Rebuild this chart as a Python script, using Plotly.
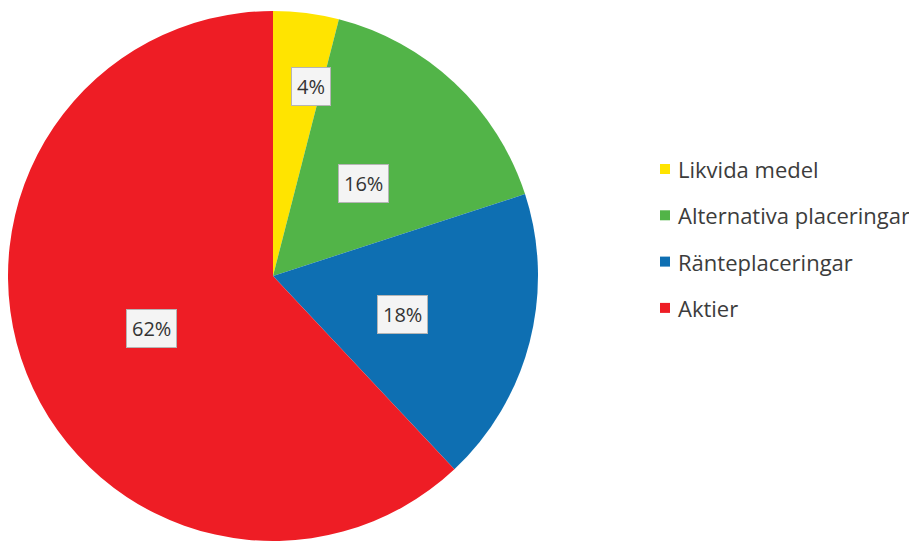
import math
import plotly.graph_objects as go

labels = ["Likvida medel", "Alternativa placeringar", "Ränteplaceringar", "Aktier"]
values = [4, 16, 18, 62]
colors = ["#FFE400", "#52B448", "#0E6FB2", "#EE1D25"]

# label placement (radius fraction, angle nudge in degrees) - layout only
label_radius = [0.73, 0.49, 0.51, 0.50]
label_nudge = [4.1, 1.2, 2.0, -1.7]

W, H = 917, 543
cx, cy, R = 273, 275, 265
# page body margin shifts the drawing; compensate
ox, oy = -8, -7


def paper_x(px):
    return (px + ox) / W


def paper_y(py):
    return 1 - (py + oy) / H


fig = go.Figure()
fig.add_trace(go.Pie(
    labels=labels, values=values, sort=False, direction="clockwise", rotation=0,
    marker=dict(colors=colors, line=dict(width=0)),
    textinfo="none", hoverinfo="label+percent", showlegend=False,
    domain=dict(x=[paper_x(cx - R), paper_x(cx + R)],
                y=[paper_y(cy + R), paper_y(cy - R)]),
))

total = sum(values)
cum = 0
annotations = []
shapes = []
for i, v in enumerate(values):
    mid = (cum + v / 2) / total * 2 * math.pi + math.radians(label_nudge[i])
    cum += v
    f = label_radius[i]
    px = cx + f * R * math.sin(mid)
    py = cy - f * R * math.cos(mid)
    annotations.append(dict(
        x=paper_x(px), y=paper_y(py), xref="paper", yref="paper",
        xanchor="center", yanchor="middle",
        text=f"{round(v / total * 100)}%", showarrow=False,
        font=dict(family="Open Sans, sans-serif", size=20, color="#333333"),
        bgcolor="#f4f4f4", bordercolor="#b5b5b5", borderwidth=1, borderpad=5,
    ))

# manual legend
leg_x, leg_y0, leg_dy, sq = 665, 168, 46.3, 10
for i, lab in enumerate(labels):
    yy = leg_y0 + i * leg_dy
    shapes.append(dict(
        type="rect", xref="paper", yref="paper",
        x0=paper_x(leg_x - sq / 2), x1=paper_x(leg_x + sq / 2),
        y0=paper_y(yy + sq / 2), y1=paper_y(yy - sq / 2),
        fillcolor=colors[i], line=dict(width=0),
    ))
    annotations.append(dict(
        x=paper_x(leg_x + 11), y=paper_y(yy), xref="paper", yref="paper",
        xanchor="left", yanchor="middle", text=lab, showarrow=False,
        font=dict(family="Open Sans, sans-serif", size=22, color="#3c3c3c"),
    ))

fig.update_layout(
    width=W, height=H, margin=dict(l=0, r=0, t=0, b=0),
    paper_bgcolor="white", plot_bgcolor="white",
    annotations=annotations, shapes=shapes,
)
fig.write_html("out.html")
